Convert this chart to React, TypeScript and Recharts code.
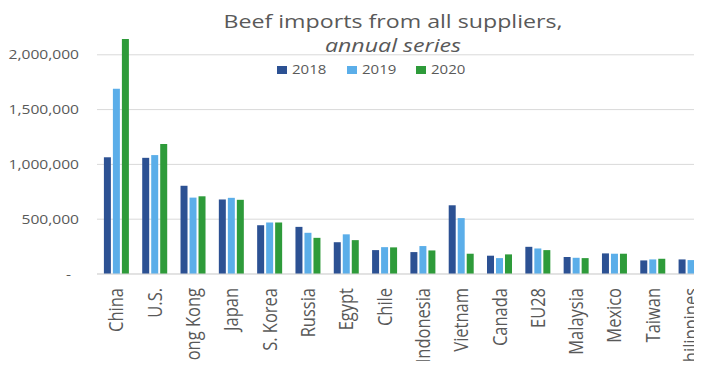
import React from 'react';
import { BarChart, Bar, XAxis, YAxis, CartesianGrid } from 'recharts';

const countries = ['China', 'U.S.', 'Hong Kong', 'Japan', 'S. Korea', 'Russia', 'Egypt', 'Chile', 'Indonesia', 'Vietnam', 'Canada', 'EU28', 'Malaysia', 'Mexico', 'Taiwan', 'Philippines'];
const imports2018 = [1065000, 1060000, 805000, 680000, 445000, 430000, 290000, 218000, 200000, 627000, 167000, 248000, 155000, 188000, 124000, 133000];
const imports2019 = [1690000, 1085000, 697000, 695000, 470000, 376000, 362000, 245000, 255000, 510000, 145000, 233000, 148000, 185000, 133000, 127000];
const imports2020 = [2145000, 1185000, 709000, 677000, 470000, 330000, 309000, 243000, 215000, 185000, 179000, 218000, 145000, 185000, 139000, 118000];
const years = ['2018', '2019', '2020'];
const yTicks = [0, 500000, 1000000, 1500000, 2000000];

const colors = ['#2C5193', '#5BAEE9', '#2E9B3A'];
const textColor = '#595959';
const font = '"Open Sans", sans-serif';

const data = countries.map((name, i) => ({
  name,
  '2018': imports2018[i],
  '2019': imports2019[i],
  '2020': imports2020[i],
}));

// the source image is stretched sideways, so text gets a horizontal scale
const YTick = ({ x, y, payload }: any) => {
  const v = payload.value;
  const label = v === 0 ? '-' : v.toLocaleString('en-US');
  return (
    <text
      transform={`translate(${v === 0 ? x - 8 : x},${y}) scale(1.2,1)`}
      textAnchor="end"
      dy="0.35em"
      fontSize={13}
      fontFamily={font}
      fill={textColor}
    >
      {label}
    </text>
  );
};

const XTick = ({ x, y, payload }: any) => (
  <text
    transform={`translate(${x},${y}) scale(1.25,1) rotate(-90)`}
    textAnchor="end"
    dy="0.35em"
    fontSize={16.5}
    fontFamily={font}
    fill={textColor}
  >
    {payload.value}
  </text>
);

const legendX = [277, 347, 416];

const App = () => {
  return (
    <div style={{ position: 'relative', width: 702, height: 369, margin: -8, overflow: 'hidden', background: '#fff' }}>
      <BarChart
        width={710}
        height={369}
        data={data}
        margin={{ top: 0, right: 0, left: 0, bottom: 0 }}
        barCategoryGap="18%"
        barGap={2}
      >
        <CartesianGrid vertical={false} stroke="#d9d9d9" />
        <XAxis
          dataKey="name"
          height={95}
          interval={0}
          axisLine={{ stroke: '#d9d9d9' }}
          tickLine={false}
          tickSize={0}
          tickMargin={14}
          tick={<XTick />}
        />
        <YAxis
          width={97}
          domain={[0, 2500000]}
          ticks={yTicks}
          axisLine={false}
          tickLine={false}
          tickSize={0}
          tickMargin={18}
          tick={<YTick />}
        />
        {years.map((yr, i) => (
          <Bar key={yr} dataKey={yr} fill={colors[i]} isAnimationActive={false} />
        ))}
      </BarChart>
      <svg width={702} height={369} style={{ position: 'absolute', left: 0, top: 0, pointerEvents: 'none' }}>
        <text transform="translate(393,28) scale(1.22,1)" textAnchor="middle" fontSize={19} fontFamily={font} fill={textColor}>
          Beef imports from all suppliers,
        </text>
        <text transform="translate(393,52) scale(1.22,1)" textAnchor="middle" fontSize={19} fontStyle="italic" fontFamily={font} fill={textColor}>
          annual series
        </text>
        {years.map((yr, i) => (
          <g key={yr}>
            <rect x={legendX[i]} y={66} width={10} height={8} fill={colors[i]} />
            <text transform={`translate(${legendX[i] + 15},74) scale(1.2,1)`} fontSize={12.5} fontFamily={font} fill={textColor}>
              {yr}
            </text>
          </g>
        ))}
      </svg>
    </div>
  );
};

export default App;
